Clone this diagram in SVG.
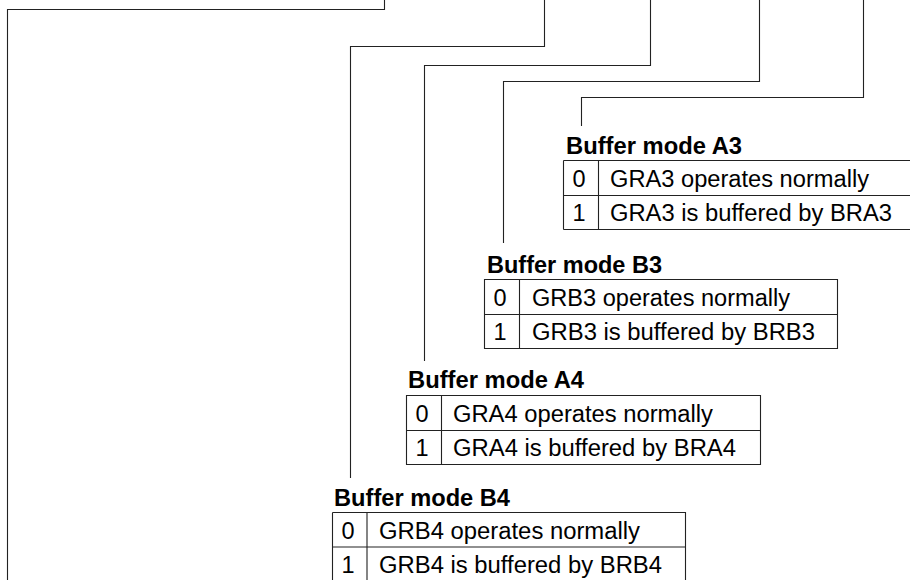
<svg xmlns="http://www.w3.org/2000/svg" width="910" height="580" viewBox="0 0 910 580">
<style>
.bg{fill:#fff}
.wire{fill:none;stroke:#222;stroke-width:1.1}
.cell{fill:none;stroke:#222;stroke-width:1.1}
.title{font-family:"Liberation Sans",Arial,sans-serif;font-weight:bold;font-size:23.5px;fill:#000}
.txt{font-family:"Liberation Sans",Arial,sans-serif;font-size:23.5px;fill:#000}
.dig{font-family:"Liberation Sans",Arial,sans-serif;font-size:23.5px;fill:#000;text-anchor:middle}
</style>
<rect class="bg" x="0" y="0" width="910" height="580"/>
<g id="connectors">
<path class="wire" d="M384.5,0 V9.5 H7.5 V580"/>
<path class="wire" d="M544.5,0 V46.5 H350.5 V478"/>
<path class="wire" d="M650.5,0 V65.5 H424.5 V361"/>
<path class="wire" d="M759.5,0 V81.5 H503.5 V243"/>
<path class="wire" d="M863.5,0 V97.5 H581.5 V126"/>
</g>
<g id="buffer-mode-a3">
<text class="title" x="566" y="154" textLength="176" lengthAdjust="spacingAndGlyphs">Buffer mode A3</text>
<path class="cell" d="M563.5,160.5 H912 M563.5,195.5 H912 M563.5,229.5 H912 M563.5,160.5 V229.5 M598.5,160.5 V229.5"/>
<text class="dig" x="579" y="186.5">0</text>
<text class="txt" x="610" y="186.5" textLength="259" lengthAdjust="spacingAndGlyphs">GRA3 operates normally</text>
<text class="dig" x="579" y="221">1</text>
<text class="txt" x="610" y="221" textLength="282" lengthAdjust="spacingAndGlyphs">GRA3 is buffered by BRA3</text>
</g>
<g id="buffer-mode-b3">
<text class="title" x="487" y="273" textLength="175" lengthAdjust="spacingAndGlyphs">Buffer mode B3</text>
<path class="cell" d="M484.5,279.5 H837.5 V348.5 H484.5 Z M484.5,314.5 H837.5 M519.5,279.5 V348.5"/>
<text class="dig" x="500" y="305.5">0</text>
<text class="txt" x="532" y="305.5" textLength="258" lengthAdjust="spacingAndGlyphs">GRB3 operates normally</text>
<text class="dig" x="500" y="340">1</text>
<text class="txt" x="532" y="340" textLength="283" lengthAdjust="spacingAndGlyphs">GRB3 is buffered by BRB3</text>
</g>
<g id="buffer-mode-a4">
<text class="title" x="408" y="388" textLength="176" lengthAdjust="spacingAndGlyphs">Buffer mode A4</text>
<path class="cell" d="M406.5,395.5 H760.5 V464.5 H406.5 Z M406.5,430.5 H760.5 M441.5,395.5 V464.5"/>
<text class="dig" x="422" y="421.5">0</text>
<text class="txt" x="453" y="421.5" textLength="260" lengthAdjust="spacingAndGlyphs">GRA4 operates normally</text>
<text class="dig" x="422" y="456">1</text>
<text class="txt" x="453" y="456" textLength="283" lengthAdjust="spacingAndGlyphs">GRA4 is buffered by BRA4</text>
</g>
<g id="buffer-mode-b4">
<text class="title" x="334" y="506" textLength="176" lengthAdjust="spacingAndGlyphs">Buffer mode B4</text>
<path class="cell" d="M332.5,512.5 H685.5 V582 M332.5,512.5 V582 M332.5,547 H685.5 M367,512.5 V582"/>
<text class="dig" x="348" y="538.5">0</text>
<text class="txt" x="379" y="538.5" textLength="261" lengthAdjust="spacingAndGlyphs">GRB4 operates normally</text>
<text class="dig" x="348" y="573">1</text>
<text class="txt" x="379" y="573" textLength="283" lengthAdjust="spacingAndGlyphs">GRB4 is buffered by BRB4</text>
</g>
</svg>
